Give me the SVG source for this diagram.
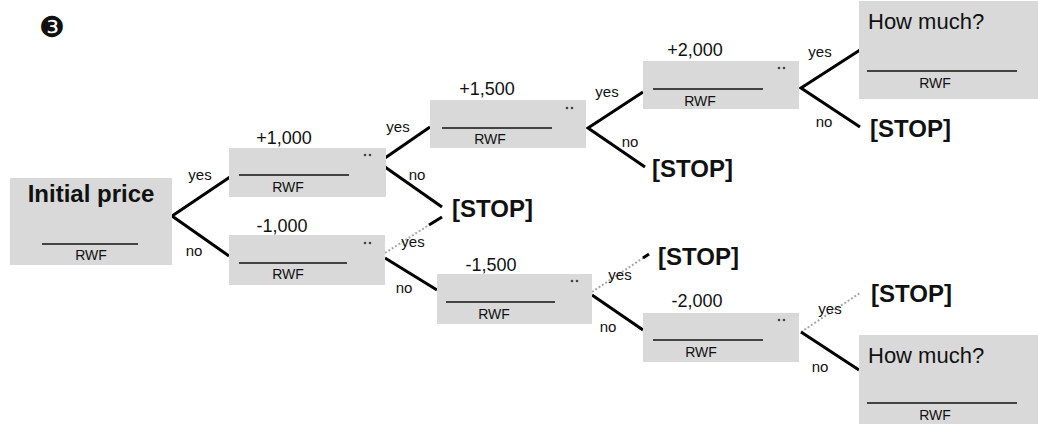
<svg xmlns="http://www.w3.org/2000/svg" width="1038" height="424" viewBox="0 0 1038 424">
<style>
.box{fill:#d9d9d9}
.ul{stroke:#111;stroke-width:1.5}
.c{stroke:#000;stroke-width:3;fill:none}
.d{stroke:#a8a8a8;stroke-width:2;stroke-dasharray:2 2;fill:none}
.dot{fill:#444}
text{font-family:"Liberation Sans",Arial,sans-serif;fill:#111}
.val{font-size:18px;text-anchor:middle}
.rwf{font-size:14px;text-anchor:middle}
.lbl{font-size:15px;text-anchor:middle}
.stop{font-size:24px;font-weight:bold}
.hm{font-size:22px}
.num{font-family:"DejaVu Sans",sans-serif;font-size:29px;text-anchor:middle}
</style>
<rect width="1038" height="424" fill="#fff"/>
<text class="num" x="52" y="37">❸</text>

<g id="connectors">
<path class="c" d="M230,177 L172,216 L229,256"/>
<path class="c" d="M385,158 L430,127"/>
<path class="c" d="M385,167 L442,207"/>
<path class="d" d="M385,253 L429,225"/>
<path class="c" d="M429,225 L442,217"/>
<path class="c" d="M385,258 L437,290"/>
<path class="c" d="M643,92 L588,128 L645,167"/>
<path class="c" d="M860,50 L801,88 L860,127"/>
<path class="d" d="M592,292 L643,258"/>
<path class="c" d="M643,258 L649,254"/>
<path class="c" d="M592,295 L643,330"/>
<path class="d" d="M801,332 L860,293"/>
<path class="c" d="M801,332 L859,370"/>
<text class="lbl" x="200" y="180">yes</text>
<text class="lbl" x="194" y="256">no</text>
<text class="lbl" x="398" y="132">yes</text>
<text class="lbl" x="417" y="180">no</text>
<text class="lbl" x="413" y="247">yes</text>
<text class="lbl" x="404" y="293">no</text>
<text class="lbl" x="607" y="97">yes</text>
<text class="lbl" x="630" y="147">no</text>
<text class="lbl" x="820" y="57">yes</text>
<text class="lbl" x="824" y="127">no</text>
<text class="lbl" x="620" y="280">yes</text>
<text class="lbl" x="608" y="332">no</text>
<text class="lbl" x="830" y="314">yes</text>
<text class="lbl" x="820" y="372">no</text>
</g>

<g id="initial">
<rect class="box" x="10" y="178" width="162" height="87"/>
<text x="91" y="202" font-size="24" font-weight="bold" text-anchor="middle">Initial price</text>
<line class="ul" x1="42" y1="244" x2="138" y2="244"/>
<text class="rwf" x="91" y="260">RWF</text>
</g>

<g id="p1000">
<text class="val" x="284" y="144">+1,000</text>
<rect class="box" x="229" y="148" width="157" height="49"/>
<line class="ul" x1="239" y1="175" x2="349" y2="175"/>
<text class="rwf" x="288" y="192">RWF</text>
<circle class="dot" cx="365" cy="155" r="1.3"/><circle class="dot" cx="370" cy="155" r="1.3"/>
</g>

<g id="m1000">
<text class="val" x="282" y="232">-1,000</text>
<rect class="box" x="229" y="235" width="156" height="50"/>
<line class="ul" x1="239" y1="263" x2="347" y2="263"/>
<text class="rwf" x="288" y="279">RWF</text>
<circle class="dot" cx="365" cy="243" r="1.3"/><circle class="dot" cx="370" cy="243" r="1.3"/>
</g>

<g id="p1500">
<text class="val" x="487" y="95">+1,500</text>
<rect class="box" x="430" y="100" width="156" height="48"/>
<line class="ul" x1="442" y1="128" x2="552" y2="128"/>
<text class="rwf" x="490" y="144">RWF</text>
<circle class="dot" cx="567" cy="108" r="1.3"/><circle class="dot" cx="572" cy="108" r="1.3"/>
</g>

<g id="p2000">
<text class="val" x="695" y="56">+2,000</text>
<rect class="box" x="643" y="61" width="156" height="48"/>
<line class="ul" x1="653" y1="89" x2="763" y2="89"/>
<text class="rwf" x="700" y="106">RWF</text>
<circle class="dot" cx="779" cy="68" r="1.3"/><circle class="dot" cx="784" cy="68" r="1.3"/>
</g>

<g id="m1500">
<text class="val" x="491" y="271">-1,500</text>
<rect class="box" x="437" y="274" width="155" height="50"/>
<line class="ul" x1="446" y1="302" x2="555" y2="302"/>
<text class="rwf" x="494" y="319">RWF</text>
<circle class="dot" cx="572" cy="281" r="1.3"/><circle class="dot" cx="577" cy="281" r="1.3"/>
</g>

<g id="m2000">
<text class="val" x="697" y="307">-2,000</text>
<rect class="box" x="643" y="313" width="156" height="49"/>
<line class="ul" x1="653" y1="340" x2="763" y2="340"/>
<text class="rwf" x="701" y="357">RWF</text>
<circle class="dot" cx="779" cy="320" r="1.3"/><circle class="dot" cx="784" cy="320" r="1.3"/>
</g>

<g id="howmuch-top">
<rect class="box" x="859" y="1" width="179" height="98"/>
<text class="hm" x="868" y="29">How much?</text>
<line class="ul" x1="867" y1="71" x2="1017" y2="71"/>
<text class="rwf" x="935" y="88">RWF</text>
</g>

<g id="howmuch-bottom">
<rect class="box" x="859" y="335" width="179" height="89"/>
<text class="hm" x="868" y="363">How much?</text>
<line class="ul" x1="867" y1="403" x2="1017" y2="403"/>
<text class="rwf" x="935" y="420">RWF</text>
</g>

<g id="stop1"><text class="stop" x="452" y="217">[STOP]</text></g>
<g id="stop2"><text class="stop" x="652" y="177">[STOP]</text></g>
<g id="stop3"><text class="stop" x="870" y="137">[STOP]</text></g>
<g id="stop4"><text class="stop" x="658" y="265">[STOP]</text></g>
<g id="stop5"><text class="stop" x="871" y="302">[STOP]</text></g>
</svg>
